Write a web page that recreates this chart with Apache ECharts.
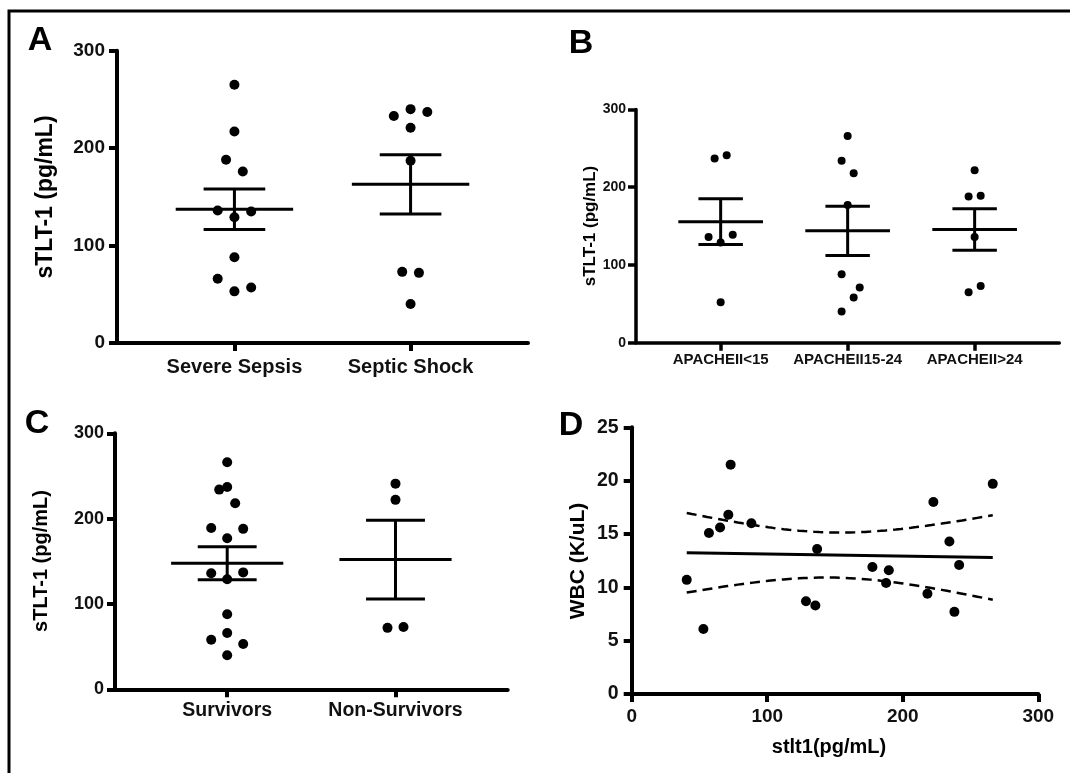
<!DOCTYPE html>
<html lang="en">
<head>
<meta charset="UTF-8">
<title>sTLT-1 plasma levels</title>
<script src="https://cdn.jsdelivr.net/npm/echarts@6/dist/echarts.min.js"></script>
<style>
    html, body { margin: 0; padding: 0; background: #fff; }
    #main { width: 1070px; height: 773px; }
</style>
</head>
<body>
<div id="main"></div>
<script>
// ---- data ----
// A: sepsis severity
const sepsisGroups = ['Severe Sepsis', 'Septic Shock'];
const severeSepsis = [265, 217, 188, 176, 136, 135, 129, 88, 66, 53, 57];
const septicShock = [233, 240, 237, 221, 187, 73, 72, 40];
// B: APACHE II score
const apacheGroups = ['APACHEII<15', 'APACHEII15-24', 'APACHEII>24'];
const apacheLow = [237, 241, 136, 139, 129, 52];
const apacheMid = [266, 234, 218, 177, 88, 71, 58, 40];
const apacheHigh = [222, 188, 189, 136, 65, 73];
// C: outcome
const outcomeGroups = ['Survivors', 'Non-Survivors'];
const survivors = [266, 234, 237, 218, 189, 188, 177, 136, 137, 129, 88, 66, 58, 53, 40];
const nonSurvivors = [241, 222, 72, 73];
// D: WBC vs sTLT-1
const stlt1 = [40.6, 52.9, 57.0, 65.2, 71.3, 73.0, 88.3, 128.6, 135.5, 136.8, 177.6, 189.7, 187.7, 218.2, 222.6, 234.4, 238.1, 241.6, 266.4];
const wbc = [10.7, 6.1, 15.1, 15.6, 16.8, 21.5, 16.0, 8.7, 8.3, 13.6, 11.9, 11.6, 10.4, 9.4, 18.0, 14.3, 7.7, 12.1, 19.7];
const tCrit = 2.110; // t(0.975, df = 17)

// side-by-side slots of the dots (half dot widths), as drawn in the figure
const severeSepsisSlot = [0, 0, -1, 1, -2, 2, 0, 0, -2, 0, 2];
const septicShockSlot = [-2, 0, 2, 0, 0, -1, 1, 0];
const apacheLowSlot = [-1, 1, -2, 2, 0, 0];
const apacheMidSlot = [0, -1, 1, 0, -1, 2, 1, -1];
const apacheHighSlot = [0, -1, 1, 0, -1, 1];
const survivorsSlot = [0, -1, 0, 1, -2, 2, 0, -2, 2, 0, 0, 0, -2, 2, 0];
const nonSurvivorsSlot = [0, 0, -1, 1];

const FONT = '"Liberation Sans", Arial, sans-serif';
const JITTER = 0.0475;
const MEAN_HALF = 1 / 3;
const CAP_HALF = 0.175;

function meanSem(arr) {
    let n = arr.length;
    let m = arr.reduce((a, b) => a + b, 0) / n;
    let ss = arr.reduce((a, b) => a + (b - m) * (b - m), 0);
    let sem = Math.sqrt(ss / (n - 1)) / Math.sqrt(n);
    return [m, m - sem, m + sem];
}

function dots(groups, slots) {
    let out = [];
    groups.forEach((vals, g) => {
        vals.forEach((v, i) => out.push([g + 1 + slots[g][i] * JITTER, v]));
    });
    return out;
}

function bars(groups) {
    return groups.map((vals, g) => [g + 1].concat(meanSem(vals)));
}

function barItem(lw) {
    return function (params, api) {
        let x = api.value(0), m = api.value(1), lo = api.value(2), hi = api.value(3);
        let seg = (p, q) => {
            let a = api.coord(p), b = api.coord(q);
            return {
                type: 'line',
                shape: { x1: a[0], y1: a[1], x2: b[0], y2: b[1] },
                style: { stroke: '#000', lineWidth: lw }
            };
        };
        return {
            type: 'group',
            children: [
                seg([x - MEAN_HALF, m], [x + MEAN_HALF, m]),
                seg([x, lo], [x, hi]),
                seg([x - CAP_HALF, hi], [x + CAP_HALF, hi]),
                seg([x - CAP_HALF, lo], [x + CAP_HALF, lo])
            ]
        };
    };
}

// linear fit + 95% confidence band for panel D
const n = stlt1.length;
const mx = stlt1.reduce((a, b) => a + b, 0) / n;
const my = wbc.reduce((a, b) => a + b, 0) / n;
let sxx = 0, sxy = 0, syy = 0;
for (let i = 0; i < n; i++) {
    sxx += (stlt1[i] - mx) ** 2;
    sxy += (stlt1[i] - mx) * (wbc[i] - my);
    syy += (wbc[i] - my) ** 2;
}
const slope = sxy / sxx;
const icpt = my - slope * mx;
const sRes = Math.sqrt((syy - sxy * sxy / sxx) / (n - 2));
const xLo = Math.min(...stlt1), xHi = Math.max(...stlt1);
const fitLine = [[xLo, icpt + slope * xLo], [xHi, icpt + slope * xHi]];
let bandUp = [], bandDn = [];
for (let k = 0; k <= 60; k++) {
    let x = xLo + (xHi - xLo) * k / 60;
    let h = tCrit * sRes * Math.sqrt(1 / n + (x - mx) ** 2 / sxx);
    bandUp.push([x, icpt + slope * x + h]);
    bandDn.push([x, icpt + slope * x - h]);
}

// ---- axes helpers ----
function yAxisCfg(gi, max, interval, fs, margin, lw) {
    return {
        gridIndex: gi, type: 'value', min: 0, max: max, interval: interval,
        splitLine: { show: false },
        axisLine: { show: true, lineStyle: { color: '#000', width: lw } },
        axisTick: { show: true, length: 8, lineStyle: { color: '#000', width: lw } },
        axisLabel: { color: '#111', fontSize: fs, fontWeight: 'bold', fontFamily: FONT, margin: margin }
    };
}

function groupAxisCfg(gi, names, fs, margin, lw) {
    let ticks = names.map((s, i) => i + 1);
    return {
        gridIndex: gi, type: 'value', min: 1 / 3, max: names.length + 2 / 3,
        splitLine: { show: false },
        axisLine: { show: true, onZero: false, lineStyle: { color: '#000', width: lw } },
        axisTick: { show: true, length: 8, customValues: ticks, lineStyle: { color: '#000', width: lw } },
        axisLabel: {
            customValues: ticks, color: '#111', fontSize: fs, fontWeight: 'bold', fontFamily: FONT, margin: margin,
            formatter: v => names[Math.round(v) - 1]
        }
    };
}

function label(text, x, y, size, rot) {
    return {
        type: 'text', x: x, y: y, rotation: rot || 0,
        style: {
            text: text, fill: '#000', font: 'bold ' + size + 'px ' + FONT,
            align: 'center', verticalAlign: 'middle', textAlign: 'center', textVerticalAlign: 'middle'
        }
    };
}

const dotStyle = { color: '#000', opacity: 1 };

let chart = echarts.init(document.getElementById('main'));
let option = {
    animation: false,
    backgroundColor: '#fff',
    grid: [
        { left: 117, top: 50.7, width: 411, height: 292.3, outerBoundsMode: 'none' },
        { left: 636, top: 109.5, width: 423.3, height: 233.2, outerBoundsMode: 'none' },
        { left: 115, top: 433.3, width: 392.7, height: 256, outerBoundsMode: 'none' },
        { left: 631.7, top: 427.3, width: 406.6, height: 266.7, outerBoundsMode: 'none' }
    ],
    xAxis: [
        groupAxisCfg(0, sepsisGroups, 20, 14, 4),
        groupAxisCfg(1, apacheGroups, 15, 10, 3.5),
        groupAxisCfg(2, outcomeGroups, 19.5, 11, 4),
        {
            gridIndex: 3, type: 'value', min: 0, max: 300, interval: 100,
            splitLine: { show: false },
            axisLine: { show: true, onZero: false, lineStyle: { color: '#000', width: 4 } },
            axisTick: { show: true, length: 8, lineStyle: { color: '#000', width: 4 } },
            axisLabel: { color: '#111', fontSize: 19, fontWeight: 'bold', fontFamily: FONT, margin: 13 }
        }
    ],
    yAxis: [
        yAxisCfg(0, 300, 100, 19, 12, 4),
        yAxisCfg(1, 300, 100, 14, 10, 3.5),
        yAxisCfg(2, 300, 100, 18, 11, 4),
        yAxisCfg(3, 25, 5, 19.5, 13, 4)
    ],
    series: [
        {
            type: 'custom', xAxisIndex: 0, yAxisIndex: 0, renderItem: barItem(3),
            data: bars([severeSepsis, septicShock]), encode: { x: 0, y: 1 }, silent: true
        },
        {
            type: 'scatter', xAxisIndex: 0, yAxisIndex: 0, symbolSize: 10, itemStyle: dotStyle,
            data: dots([severeSepsis, septicShock], [severeSepsisSlot, septicShockSlot])
        },
        {
            type: 'custom', xAxisIndex: 1, yAxisIndex: 1, renderItem: barItem(3),
            data: bars([apacheLow, apacheMid, apacheHigh]), encode: { x: 0, y: 1 }, silent: true
        },
        {
            type: 'scatter', xAxisIndex: 1, yAxisIndex: 1, symbolSize: 8, itemStyle: dotStyle,
            data: dots([apacheLow, apacheMid, apacheHigh], [apacheLowSlot, apacheMidSlot, apacheHighSlot])
        },
        {
            type: 'custom', xAxisIndex: 2, yAxisIndex: 2, renderItem: barItem(3),
            data: bars([survivors, nonSurvivors]), encode: { x: 0, y: 1 }, silent: true
        },
        {
            type: 'scatter', xAxisIndex: 2, yAxisIndex: 2, symbolSize: 10, itemStyle: dotStyle,
            data: dots([survivors, nonSurvivors], [survivorsSlot, nonSurvivorsSlot])
        },
        {
            type: 'scatter', xAxisIndex: 3, yAxisIndex: 3, symbolSize: 10, itemStyle: dotStyle,
            data: stlt1.map((x, i) => [x, wbc[i]])
        },
        {
            type: 'line', xAxisIndex: 3, yAxisIndex: 3, symbol: 'none', data: fitLine,
            lineStyle: { color: '#000', width: 3 }
        },
        {
            type: 'line', xAxisIndex: 3, yAxisIndex: 3, symbol: 'none', data: bandUp,
            lineStyle: { color: '#000', width: 2.5, type: [10, 6] }
        },
        {
            type: 'line', xAxisIndex: 3, yAxisIndex: 3, symbol: 'none', data: bandDn,
            lineStyle: { color: '#000', width: 2.5, type: [10, 6] }
        }
    ],
    graphic: [
        {
            type: 'polyline', silent: true,
            shape: { points: [[9, 773], [9, 11], [1070, 11]] },
            style: { stroke: '#000', lineWidth: 3, fill: null }
        },
        label('A', 40, 41, 34),
        label('B', 581, 44, 34),
        label('C', 37, 424, 34),
        label('D', 571, 426, 34),
        label('sTLT-1 (pg/mL)', 45.6, 197, 23, Math.PI / 2),
        label('sTLT-1 (pg/mL)', 590, 226, 17, Math.PI / 2),
        label('sTLT-1 (pg/mL)', 41.4, 561, 20, Math.PI / 2),
        label('WBC (K/uL)', 578, 561, 21, Math.PI / 2),
        label('stlt1(pg/mL)', 829, 747, 20)
    ]
};
chart.setOption(option);
</script>
</body>
</html>
